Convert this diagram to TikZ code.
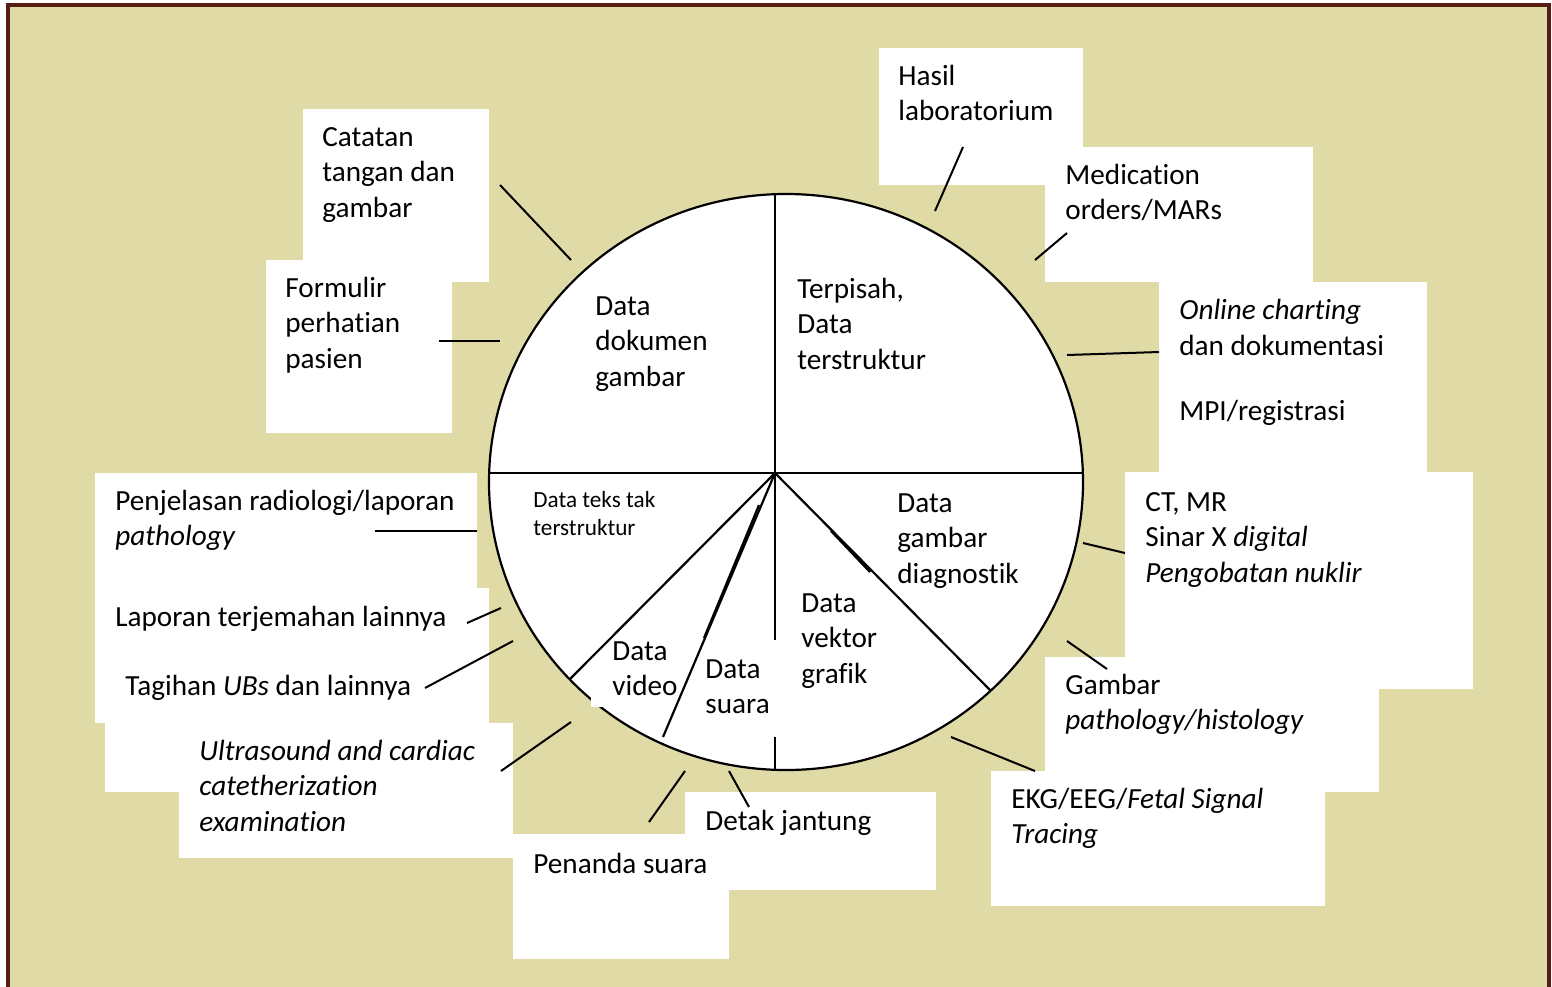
\documentclass[tikz,border=0pt]{standalone}
\usepackage{fontspec}
\setmainfont{Carlito}[Ligatures=NoCommon]
\definecolor{khaki}{RGB}{224,219,166}
\definecolor{frame}{RGB}{88,28,16}
\tikzset{
  lbl/.style={anchor=base west, inner sep=0pt, align=left, font=\fontsize{14.6}{17.75}\selectfont},
  smalllbl/.style={anchor=base west, inner sep=0pt, align=left, font=\fontsize{11.6}{14}\selectfont},
  conn/.style={line width=1pt, black},
  pie/.style={line width=1.1pt, black},
}
\begin{document}
\begin{tikzpicture}[x=0.5pt,y=-0.5pt]
\useasboundingbox (0,0) rectangle (1552,986);
% background and frame
\fill[khaki] (7.7,5.3) rectangle (1549,990);
\draw[frame, line width=1.85pt] (7.7,990) -- (7.7,5.3) -- (1549,5.3) -- (1549,990);
% white boxes
\fill[white] (303,109) rectangle (489,282);
\fill[white] (266,260) rectangle (452,433);
\fill[white] (879,48) rectangle (1083,185);
\fill[white] (1045,147) rectangle (1313,282);
\fill[white] (1159,282) rectangle (1427,472);
\fill[white] (1125,472) rectangle (1473,689);
\fill[white] (1045,657) rectangle (1379,792);
\fill[white] (991,771) rectangle (1325,906);
\fill[white] (95,473) rectangle (477,723);
\fill[white] (95,588) rectangle (489,723);
\fill[white] (105,723) rectangle (513,792);
\fill[white] (179,723) rectangle (513,858);
\fill[white] (685,792) rectangle (936,890);
\fill[white] (513,834) rectangle (729,959);
% circle
\coordinate (c) at (775,473);
\draw[pie, fill=white] (786,482) ellipse [x radius=297, y radius=288];
\fill[white] (591,694) rectangle (606,707);
\coordinate (hl) at (489,473);
\coordinate (hr) at (1083,473);
\coordinate (vt) at (775,194);
\draw[pie] (hl) -- (hr);
\draw[pie] (vt) -- (c);
\coordinate (s1) at (570,679);
\coordinate (s2) at (663,737);
\coordinate (s3a) at (775,640);
\coordinate (s3b) at (775,737);
\coordinate (s3c) at (775,770);
\coordinate (s4) at (990,690);
\draw[pie] (c) -- (s1);
\draw[pie] (c) -- (s2);
\draw[pie] (759,505) -- (704,638);
\draw[pie] (c) -- (s3a);
\draw[pie] (s3b) -- (s3c);
\draw[pie] (c) -- (s4);
\draw[pie] (831,531) -- (870,572);
% inside labels (anchor = baseline of last line)
\node[lbl] (dok) at (595,386) {Data\\dokumen\\gambar};
\node[lbl] (ters) at (797,369) {Terpisah,\\Data\\terstruktur};
\node[smalllbl] (teks) at (533,535) {Data teks tak\\terstruktur};
\node[lbl] (diag) at (897,583) {Data\\gambar\\diagnostik};
\node[lbl] (vek) at (801,683) {Data\\vektor\\grafik};
\node[lbl] (vid) at (612,695.5) {Data\\video};
\node[lbl] (sua) at (705,713.5) {Data\\suara};
% outside labels
\node[lbl] (cat) at (322,217) {Catatan\\tangan dan\\gambar};
\node[lbl] (form) at (285,368) {Formulir\\perhatian\\pasien};
\node[lbl] (hasil) at (898,120.5) {Hasil\\laboratorium};
\node[lbl] (med) at (1065,219.5) {Medication\\orders/MARs};
\node[lbl] (onl) at (1179,420) {\textit{Online charting}\\dan dokumentasi\\[14.75pt]MPI/registrasi};
\node[lbl] (ct) at (1145,582) {CT, MR\\Sinar X \textit{digital}\\\textit{Pengobatan nuklir}};
\node[lbl] (gam) at (1065,729.5) {Gambar\\\textit{pathology/histology}};
\node[lbl] (ekg) at (1011,843.5) {EKG/EEG/\textit{Fetal Signal}\\\textit{Tracing}};
\node[lbl] (penj) at (115,545.5) {Penjelasan radiologi/laporan\\\textit{pathology}};
\node[lbl] (lap) at (115,626) {Laporan terjemahan lainnya};
\node[lbl] (tag) at (125,695) {Tagihan \textit{UBs} dan lainnya};
\node[lbl] (ult) at (199,831) {\textit{Ultrasound and cardiac}\\\textit{catetherization}\\\textit{examination}};
\node[lbl] (det) at (705,830) {Detak jantung};
\node[lbl] (pen) at (533,873) {Penanda suara};
% connectors
\coordinate (a1) at (500,185); \coordinate (b1) at (571,260);
\coordinate (a2) at (439,341); \coordinate (b2) at (500,341);
\coordinate (a3) at (963,147); \coordinate (b3) at (935,211);
\coordinate (a4) at (1067,233); \coordinate (b4) at (1035,260);
\coordinate (a5) at (1159,352); \coordinate (b5) at (1067,355);
\coordinate (a6) at (1125,553); \coordinate (b6) at (1083,543);
\coordinate (a7) at (1107,669); \coordinate (b7) at (1067,641);
\coordinate (a8) at (1035,771); \coordinate (b8) at (951,737);
\coordinate (a9) at (375,531); \coordinate (b9) at (477,531);
\coordinate (a10) at (467,623); \coordinate (b10) at (501,608);
\coordinate (a11) at (425,688); \coordinate (b11) at (513,641);
\coordinate (a12) at (501,771); \coordinate (b12) at (571,722);
\coordinate (a13) at (649,822); \coordinate (b13) at (685,771);
\coordinate (a14) at (749,807); \coordinate (b14) at (729,771);
\foreach \i in {1,...,14} { \draw[conn] (a\i) -- (b\i); }
\end{tikzpicture}
\end{document}
